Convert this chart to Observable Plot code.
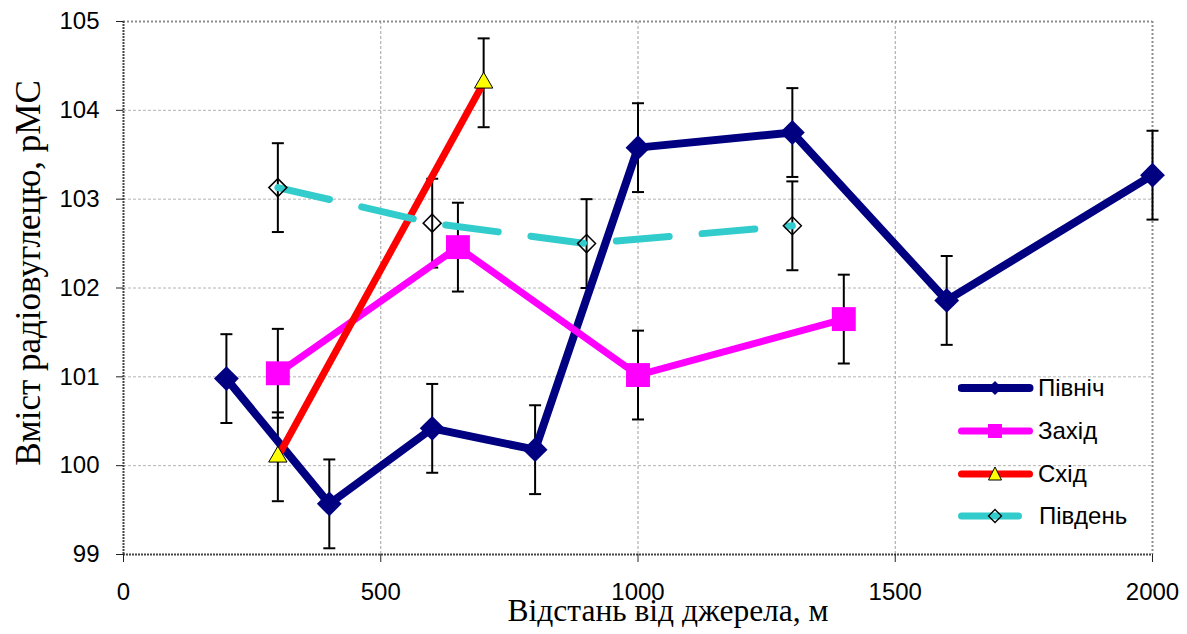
<!DOCTYPE html>
<html>
<head>
<meta charset="utf-8">
<script src="https://cdn.jsdelivr.net/npm/d3@7"></script>
<script src="https://cdn.jsdelivr.net/npm/@observablehq/plot@0.6"></script>
<style>
  html, body { margin: 0; padding: 0; background: #fff; }
  #wrap { position: relative; width: 1187px; height: 634px; }
  #legend { position: absolute; left: 958px; top: 367px; font-family: "Liberation Sans", Arial, sans-serif; font-size: 24px; color: #000; }
  .row { display: flex; align-items: center; height: 42.7px; }
  .row svg { width: 80px; height: 24px; display: block; }
  .row span { margin-left: 0px; line-height: 1; }
</style>
</head>
<body>
<div id="wrap"></div>
<script>
// ---- data ----
const seriesNames = ["Північ", "Захід", "Схід", "Південь"];
const northX = [200, 400, 600, 800, 1000, 1300, 1600, 2000];
const northY = [100.98, 99.57, 100.42, 100.18, 103.58, 103.75, 101.86, 103.27];
const westX = [300, 650, 1000, 1400];
const westY = [101.04, 102.46, 101.02, 101.65];
const eastX = [300, 700];
const eastY = [100.10, 104.31];
const southX = [300, 600, 900, 1300];
const southY = [103.13, 102.73, 102.50, 102.70];
const errHalf = 0.5;
const xTicks = [0, 500, 1000, 1500, 2000];
const yTicks = [99, 100, 101, 102, 103, 104, 105];
const xLabel = "Відстань від джерела, м";
const yLabel = "Вміст радіовуглецю, pMC";

const colors = { north: "#000080", west: "#ff00ff", east: "#ff0000", south: "#33cccc" };

const toRows = (xs, ys) => xs.map((x, i) => ({ x, y: ys[i] }));
const north = toRows(northX, northY);
const west = toRows(westX, westY);
const east = toRows(eastX, eastY);
const south = toRows(southX, southY);
const all = [...north, ...west, ...east, ...south];

const capSymbol = {
  draw(context, size) {
    const w = Math.sqrt(size) / 2;
    context.moveTo(-w, 0);
    context.lineTo(w, 0);
  }
};

const serif = "'Liberation Serif', 'Times New Roman', serif";

const chart = Plot.plot({
  width: 1187,
  height: 634,
  marginLeft: 123,
  marginRight: 35,
  marginTop: 21,
  marginBottom: 80,
  style: { fontFamily: "'Liberation Sans', Arial, sans-serif", fontSize: "24px", color: "#000", background: "white", overflow: "visible" },
  x: { domain: [0, 2000] },
  y: { domain: [99, 105] },
  marks: [
    Plot.gridY([100, 101, 102, 103, 104], { stroke: "#b4b4b4", strokeOpacity: 1, strokeWidth: 1, strokeDasharray: "3,2" }),
    Plot.gridX([500, 1000, 1500], { stroke: "#a0a0a0", strokeOpacity: 1, strokeWidth: 1, strokeDasharray: "3,2" }),
    Plot.ruleY([105], { stroke: "#8c8c8c", strokeWidth: 2, strokeDasharray: "2,2" }),
    Plot.ruleX([2000], { stroke: "#8c8c8c", strokeWidth: 2, strokeDasharray: "2,2" }),
    Plot.ruleX([0], { stroke: "#444", strokeWidth: 2, strokeDasharray: "2,1" }),
    Plot.ruleY([99], { stroke: "#444", strokeWidth: 2, strokeDasharray: "2,1" }),
    Plot.axisY({ ticks: yTicks, tickFormat: d => String(d), tickSize: 7, tickPadding: 17, fontSize: 24, label: null, stroke: "#222" }),
    Plot.axisX({ ticks: xTicks, tickFormat: d => String(d), tickSize: 8, tickPadding: 20, fontSize: 24, label: null, stroke: "#222" }),
    // error bars
    Plot.ruleX(all, { x: "x", y1: d => d.y - errHalf, y2: d => d.y + errHalf, stroke: "black", strokeWidth: 2 }),
    Plot.dot(all, { x: "x", y: d => d.y + errHalf, symbol: capSymbol, r: 6.77, stroke: "black", strokeWidth: 2, fill: "none" }),
    Plot.dot(all, { x: "x", y: d => d.y - errHalf, symbol: capSymbol, r: 6.77, stroke: "black", strokeWidth: 2, fill: "none" }),
    // lines
    Plot.line(north, { x: "x", y: "y", stroke: colors.north, strokeWidth: 8, strokeLinejoin: "miter", strokeLinecap: "butt" }),
    Plot.line(west, { x: "x", y: "y", stroke: colors.west, strokeWidth: 7, strokeLinejoin: "miter", strokeLinecap: "butt" }),
    Plot.line(east, { x: "x", y: "y", stroke: colors.east, strokeWidth: 7, strokeLinecap: "butt" }),
    Plot.line(south, { x: "x", y: "y", stroke: colors.south, strokeWidth: 7, strokeDasharray: "53,33", strokeLinecap: "round" }),
    // markers
    Plot.dot(north, { x: "x", y: "y", symbol: "diamond2", r: 11.2, fill: colors.north, stroke: "none" }),
    Plot.dot(west, { x: "x", y: "y", symbol: "square", r: 13.5, fill: colors.west, stroke: "none" }),
    Plot.dot(east, { x: "x", y: "y", symbol: "triangle", r: 6.8, fill: "#ffff00", stroke: "black", strokeWidth: 1 }),
    Plot.dot(south, { x: "x", y: "y", symbol: "diamond2", r: 8.1, fill: "none", stroke: "black", strokeWidth: 1.5 }),
    // axis titles
    Plot.text([yLabel], { text: d => d, frameAnchor: "left", textAnchor: "middle", lineAnchor: "middle", dx: -95, dy: -15, rotate: -90, fontFamily: serif, fontSize: 35, fill: "black" }),
    Plot.text([xLabel], { text: d => d, frameAnchor: "bottom", textAnchor: "middle", lineAnchor: "middle", dx: 30, dy: 56, fontFamily: serif, fontSize: 31.5, fill: "black" })
  ]
});

const wrap = document.getElementById("wrap");
wrap.appendChild(chart);

// legend (HTML overlay)
const legendItems = [
  { name: seriesNames[0], color: colors.north, width: 8, dash: null, marker: '<path d="M37,5 L44,12 L37,19 L30,12 Z" fill="' + colors.north + '"/>' },
  { name: seriesNames[1], color: colors.west, width: 7, dash: null, marker: '<rect x="30" y="5" width="14" height="14" fill="' + colors.west + '"/>' },
  { name: seriesNames[2], color: colors.east, width: 7, dash: null, marker: '<path d="M37,5 L43.5,18 L30.5,18 Z" fill="#ffff00" stroke="black" stroke-width="1"/>' },
  { name: seriesNames[3], color: colors.south, width: 7, dash: true, marker: '<path d="M37,5.5 L43.5,12 L37,18.5 L30.5,12 Z" fill="none" stroke="black" stroke-width="1.3"/>' }
];
const legend = document.createElement("div");
legend.id = "legend";
legendItems.forEach(it => {
  const row = document.createElement("div");
  row.className = "row";
  const x2 = it.dash ? 64 : 75;
  row.innerHTML = '<svg viewBox="0 0 80 24"><line x1="3.5" y1="12" x2="' + (x2 - 3.5) + '" y2="12" stroke="' + it.color + '" stroke-width="' + it.width + '" stroke-linecap="round"/>' + it.marker + '</svg><span' + (it.dash ? ' style="margin-left:1px"' : '') + '>' + it.name + '</span>';
  legend.appendChild(row);
});
wrap.appendChild(legend);
</script>
</body>
</html>
